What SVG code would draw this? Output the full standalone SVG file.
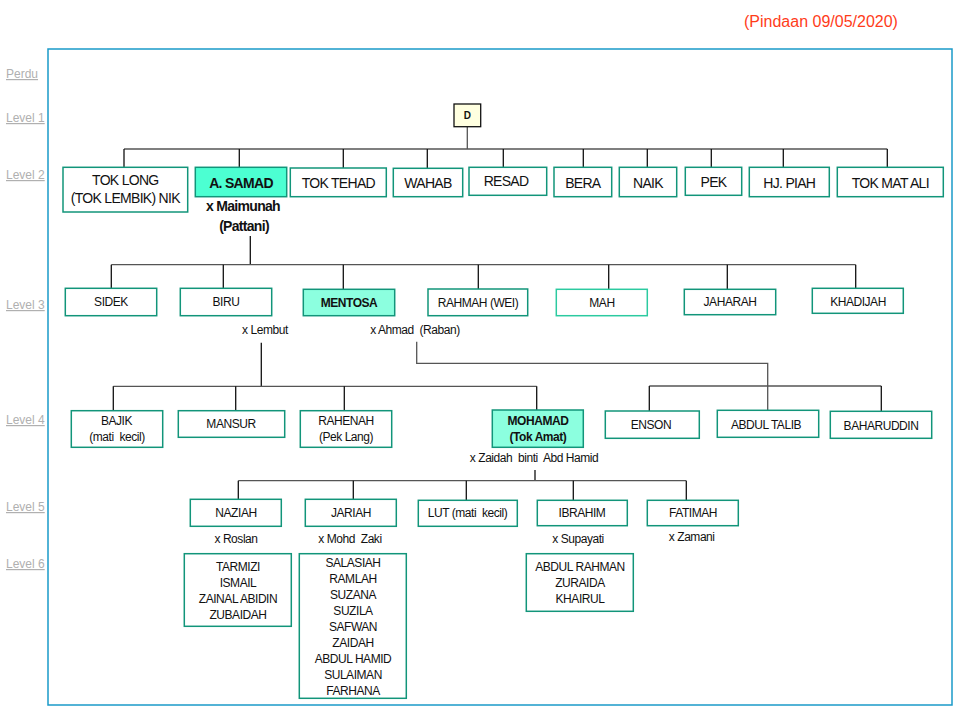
<svg xmlns="http://www.w3.org/2000/svg" width="960" height="720" viewBox="0 0 960 720">
<style>
text{font-family:"Liberation Sans",Arial,sans-serif;fill:#111}
.box{fill:#fff;stroke:#12957a;stroke-width:1.5}
.hl{fill:#4cffd2}
.lt{fill:#8cffdf}
.lbl{font-size:12px;fill:#b0b0b0;text-decoration:underline}
.t14{font-size:14px;text-anchor:middle;letter-spacing:-0.7px}
.t12{font-size:12px;text-anchor:middle;letter-spacing:-0.45px}
.b{font-weight:bold}
.c line,.c path{stroke:#111;stroke-width:1.3;fill:none}
.c .g{stroke:#555}
</style>
<rect x="48" y="49" width="904" height="656" fill="none" stroke="#1a9ac9" stroke-width="1.5"/>
<text x="744" y="27" style="font-size:16px;fill:#ff3c1a">(Pindaan 09/05/2020)</text>
<g id="levels">
<text class="lbl" x="6" y="78">Perdu</text>
<text class="lbl" x="6" y="122">Level 1</text>
<text class="lbl" x="6" y="179">Level 2</text>
<text class="lbl" x="6" y="309">Level 3</text>
<text class="lbl" x="6" y="424">Level 4</text>
<text class="lbl" x="6" y="511">Level 5</text>
<text class="lbl" x="6" y="568">Level 6</text>
</g>
<g id="connectors" class="c">
<line class="g" x1="467.3" y1="127" x2="467.3" y2="149"/>
<line class="g" x1="124" y1="149" x2="887.3" y2="149"/>
<line x1="124" y1="149" x2="124" y2="167"/>
<line x1="239.3" y1="149" x2="239.3" y2="167"/>
<line x1="343.3" y1="149" x2="343.3" y2="168"/>
<line x1="427.3" y1="149" x2="427.3" y2="168"/>
<line x1="503.3" y1="149" x2="503.3" y2="167"/>
<line x1="583.3" y1="149" x2="583.3" y2="167"/>
<line x1="647.3" y1="149" x2="647.3" y2="167"/>
<line x1="711.3" y1="149" x2="711.3" y2="167"/>
<line x1="783.3" y1="149" x2="783.3" y2="167"/>
<line x1="887.3" y1="149" x2="887.3" y2="167"/>
<line x1="250.3" y1="236" x2="250.3" y2="264.7"/>
<line class="g" x1="111.3" y1="264.7" x2="855.7" y2="264.7"/>
<line x1="111.3" y1="264.7" x2="111.3" y2="288"/>
<line x1="223.3" y1="264.7" x2="223.3" y2="288"/>
<line x1="343.3" y1="264.7" x2="343.3" y2="289"/>
<line x1="478.3" y1="264.7" x2="478.3" y2="289"/>
<line x1="608.7" y1="264.7" x2="608.7" y2="289"/>
<line x1="727.3" y1="264.7" x2="727.3" y2="289"/>
<line x1="855.7" y1="264.7" x2="855.7" y2="288"/>
<line x1="261.3" y1="342.7" x2="261.3" y2="386.3"/>
<line class="g" x1="113.3" y1="386.3" x2="536.7" y2="386.3"/>
<line x1="113.3" y1="386.3" x2="113.3" y2="410.7"/>
<line x1="235.7" y1="386.3" x2="235.7" y2="410.7"/>
<line x1="344.3" y1="386.3" x2="344.3" y2="410.7"/>
<line x1="536.7" y1="386.3" x2="536.7" y2="410"/>
<path class="g" d="M416.7 341.7 V363.3 H767.7 V410.3"/>
<line class="g" x1="649.3" y1="386" x2="881.3" y2="386"/>
<line x1="649.3" y1="386" x2="649.3" y2="411"/>
<line x1="881.3" y1="386" x2="881.3" y2="411.3"/>
<line x1="535" y1="470" x2="535" y2="480.7"/>
<line class="g" x1="238.3" y1="480.7" x2="686.3" y2="480.7"/>
<line x1="238.3" y1="480.7" x2="238.3" y2="499.3"/>
<line x1="353.3" y1="480.7" x2="353.3" y2="499.3"/>
<line x1="466.3" y1="480.7" x2="466.3" y2="500.3"/>
<line x1="573.3" y1="480.7" x2="573.3" y2="500.3"/>
<line x1="686.3" y1="480.7" x2="686.3" y2="500.3"/>
</g>
<g id="n-D"><rect x="454" y="104" width="26.7" height="22.7" fill="#ffffe0" stroke="#111" stroke-width="1.3"/><text x="467.3" y="119" style="font-size:10px;font-weight:bold;text-anchor:middle">D</text></g>
<g id="n-toklong"><rect class="box" x="63" y="167.3" width="124.7" height="44.7"/><text class="t14" x="125.3" y="185">TOK LONG</text><text class="t14" x="125.3" y="203">(TOK LEMBIK) NIK</text></g>
<g id="n-asamad"><rect class="box hl" x="195.3" y="167.3" width="91.4" height="29.4"/><text class="t14 b" x="241" y="188">A. SAMAD</text><text class="t14 b" x="243" y="211">x Maimunah</text><text class="t14 b" x="244" y="231">(Pattani)</text></g>
<g id="n-toktehad"><rect class="box" x="290.3" y="168" width="96" height="28.7"/><text class="t14" x="338.3" y="188">TOK TEHAD</text></g>
<g id="n-wahab"><rect class="box" x="393.3" y="168.3" width="69.4" height="28.4"/><text class="t14" x="428" y="188">WAHAB</text></g>
<g id="n-resad"><rect class="box" x="469" y="167.3" width="77.7" height="28"/><text class="t14" x="506" y="186">RESAD</text></g>
<g id="n-bera"><rect class="box" x="554" y="167.3" width="57.7" height="29.4"/><text class="t14" x="582.8" y="188">BERA</text></g>
<g id="n-naik"><rect class="box" x="619.3" y="167.3" width="57.4" height="29.4"/><text class="t14" x="648" y="188">NAIK</text></g>
<g id="n-pek"><rect class="box" x="685.3" y="167.3" width="56.4" height="28"/><text class="t14" x="713.5" y="187">PEK</text></g>
<g id="n-hjpiah"><rect class="box" x="749.3" y="167.3" width="80" height="29.4"/><text class="t14" x="789.3" y="188">HJ. PIAH</text></g>
<g id="n-tokmatali"><rect class="box" x="837.3" y="167.3" width="106" height="29.4"/><text class="t14" x="890.3" y="188">TOK MAT ALI</text></g>
<g id="n-sidek"><rect class="box" x="65.3" y="288.3" width="91.4" height="27.4"/><text class="t12" x="111" y="306">SIDEK</text></g>
<g id="n-biru"><rect class="box" x="180.3" y="288.3" width="91.4" height="27.4"/><text class="t12" x="226" y="306">BIRU</text><text class="t12" x="265" y="333.5">x Lembut</text></g>
<g id="n-mentosa"><rect class="box lt" x="303.3" y="289.3" width="91.4" height="26.4"/><text class="t12 b" x="349" y="306.5">MENTOSA</text><text class="t12" x="415" y="333.5" xml:space="preserve">x Ahmad  (Raban)</text></g>
<g id="n-rahmah"><rect class="box" x="428" y="289" width="99.7" height="26.7"/><text class="t12" x="478" y="306.5">RAHMAH (WEI)</text></g>
<g id="n-mah"><rect class="box" x="556.3" y="289.3" width="91" height="26.4" style="stroke:#2ccaa0"/><text class="t12" x="602" y="306.5">MAH</text></g>
<g id="n-jaharah"><rect class="box" x="684.3" y="289.3" width="91.4" height="25.4"/><text class="t12" x="730" y="305.5">JAHARAH</text></g>
<g id="n-khadijah"><rect class="box" x="812.3" y="288.3" width="91" height="25"/><text class="t12" x="858" y="305.5">KHADIJAH</text></g>
<g id="n-bajik"><rect class="box" x="71.3" y="410.7" width="91.4" height="36.6"/><text class="t12" x="116.5" y="425">BAJIK</text><text class="t12" x="117" y="441" xml:space="preserve">(mati  kecil)</text></g>
<g id="n-mansur"><rect class="box" x="178.3" y="410.7" width="106.4" height="26.6"/><text class="t12" x="231" y="427.5">MANSUR</text></g>
<g id="n-rahenah"><rect class="box" x="300.3" y="410.7" width="91.4" height="36.6"/><text class="t12" x="346" y="425">RAHENAH</text><text class="t12" x="346" y="441">(Pek Lang)</text></g>
<g id="n-mohamad"><rect class="box lt" x="492.3" y="410" width="91" height="37.3"/><text class="t12 b" x="538" y="424.5">MOHAMAD</text><text class="t12 b" x="538" y="441">(Tok Amat)</text><text class="t12" x="534" y="461.5" xml:space="preserve">x Zaidah  binti  Abd Hamid</text></g>
<g id="n-enson"><rect class="box" x="605.3" y="411" width="94" height="27.3"/><text class="t12" x="651" y="429">ENSON</text></g>
<g id="n-abdultalib"><rect class="box" x="717.3" y="410.3" width="101.4" height="27"/><text class="t12" x="766" y="428.5">ABDUL TALIB</text></g>
<g id="n-baharuddin"><rect class="box" x="830.3" y="411.3" width="101.4" height="27"/><text class="t12" x="881" y="429.5">BAHARUDDIN</text></g>
<g id="n-naziah"><rect class="box" x="190.3" y="499.3" width="91" height="27"/><text class="t12" x="236" y="517">NAZIAH</text><text class="t12" x="236" y="543">x Roslan</text></g>
<g id="n-jariah"><rect class="box" x="305.3" y="499.3" width="91" height="27"/><text class="t12" x="351" y="517">JARIAH</text><text class="t12" x="350" y="543" xml:space="preserve">x Mohd  Zaki</text></g>
<g id="n-lut"><rect class="box" x="418.3" y="500.3" width="99" height="26"/><text class="t12" x="467.5" y="517" xml:space="preserve">LUT (mati  kecil)</text></g>
<g id="n-ibrahim"><rect class="box" x="537.3" y="500.3" width="90" height="25.4"/><text class="t12" x="582" y="517">IBRAHIM</text><text class="t12" x="578" y="543">x Supayati</text></g>
<g id="n-fatimah"><rect class="box" x="647.3" y="500.3" width="91" height="25.4"/><text class="t12" x="693" y="517">FATIMAH</text><text class="t12" x="691.7" y="541">x Zamani</text></g>
<g id="n-naziah-kids"><rect class="box" x="184.3" y="553.7" width="107" height="72.6"/>
<text class="t12" x="238" y="571">TARMIZI</text><text class="t12" x="238" y="587">ISMAIL</text><text class="t12" x="238" y="603">ZAINAL ABIDIN</text><text class="t12" x="238" y="619">ZUBAIDAH</text></g>
<g id="n-jariah-kids"><rect class="box" x="299.3" y="553.7" width="107" height="144.6"/>
<text class="t12" x="353" y="566.5">SALASIAH</text><text class="t12" x="353" y="582.5">RAMLAH</text><text class="t12" x="353" y="598.5">SUZANA</text><text class="t12" x="353" y="614.5">SUZILA</text><text class="t12" x="353" y="630.5">SAFWAN</text><text class="t12" x="353" y="646.5">ZAIDAH</text><text class="t12" x="353" y="662.5">ABDUL HAMID</text><text class="t12" x="353" y="678.5">SULAIMAN</text><text class="t12" x="353" y="694.5">FARHANA</text></g>
<g id="n-ibrahim-kids"><rect class="box" x="526.3" y="553.7" width="107" height="57.6"/>
<text class="t12" x="580" y="571">ABDUL RAHMAN</text><text class="t12" x="580" y="587">ZURAIDA</text><text class="t12" x="580" y="603">KHAIRUL</text></g>
</svg>
